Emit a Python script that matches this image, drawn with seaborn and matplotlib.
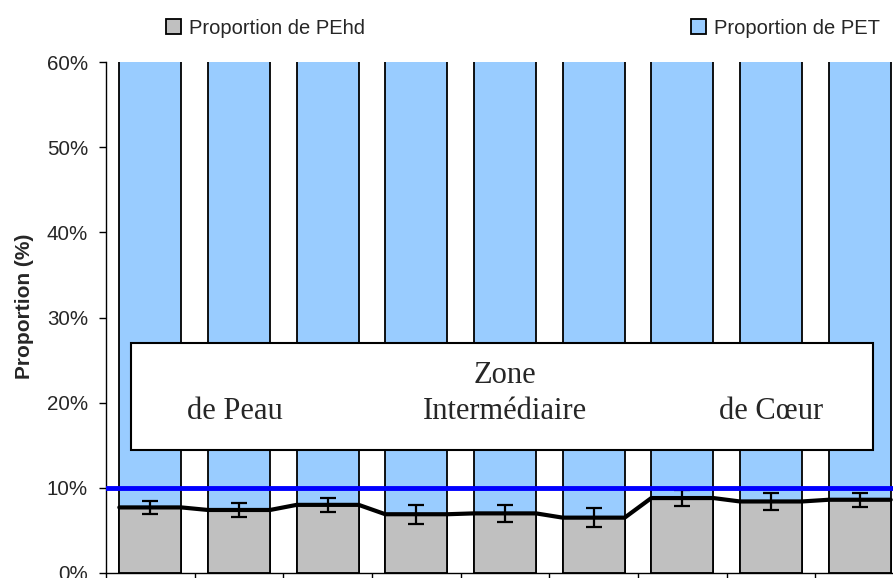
import numpy as np
import pandas as pd
import matplotlib
matplotlib.use('Agg')
import matplotlib.pyplot as plt
import matplotlib.patches as mpatches
import seaborn as sns

# Data
positions = ['1', '2', '3', '4', '5', '6', '7', '8', '9']
pehd = [7.7, 7.4, 8.0, 6.9, 7.0, 6.5, 8.8, 8.4, 8.6]
pehd_err = [0.8, 0.8, 0.8, 1.1, 1.0, 1.1, 0.9, 0.95, 0.85]
pet = [100 - v for v in pehd]
threshold = 10
zone_labels = ['de Peau', 'Intermédiaire', 'de Cœur']
zone_centers = [0.95, 4.0, 7.0]

df = pd.DataFrame({'position': positions, 'PEhd': pehd, 'PET': pet})
df['total'] = df['PEhd'] + df['PET']

sns.set_style('ticks')
plt.rcParams['font.family'] = ['Liberation Sans', 'DejaVu Sans']

fig = plt.figure(figsize=(8.93, 5.78), dpi=100)
ax = fig.add_axes([106 / 893, 5 / 578, 798 / 893, 511 / 578])

bar_w = 0.7
# PET stacked on top of PEhd: draw full height in blue, PEhd over it
sns.barplot(data=df, x='position', y='total', color='#99CCFF', saturation=1,
            edgecolor='black', linewidth=1.3, width=bar_w, errorbar=None, ax=ax)
sns.barplot(data=df, x='position', y='PEhd', color='#C0C0C0', saturation=1,
            edgecolor='black', linewidth=1.3, width=bar_w, errorbar=None, ax=ax)

# series line joining the tops of the PEhd bars
idx = np.arange(len(positions))
line_x = np.ravel([[i - bar_w / 2, i + bar_w / 2] for i in idx])
line_y = np.repeat(pehd, 2)
ax.plot(line_x, line_y, color='black', lw=3, zorder=4)

ax.errorbar(idx, pehd, yerr=pehd_err, fmt='none', ecolor='black',
            elinewidth=1.6, capsize=5.5, capthick=1.6, zorder=5)

ax.axhline(threshold, color='#0000FF', lw=3.5, zorder=6)

# zone annotation box
box = mpatches.Rectangle((-0.22, 14.4), 8.37, 12.6, facecolor='white',
                         edgecolor='black', lw=1.5, zorder=7)
ax.add_patch(box)
serif = ['Liberation Serif', 'DejaVu Serif']
ax.text(4.0, 23.2, 'Zone', ha='center', va='center', fontsize=22,
        family=serif, zorder=8)
for lab, cx in zip(zone_labels, zone_centers):
    ax.text(cx, 19.0, lab, ha='center', va='center', fontsize=22,
            family=serif, zorder=8)

ax.set_ylim(0, 60)
ax.set_xlim(-0.5, len(positions) - 0.5)
ax.set_yticks(np.arange(0, 61, 10))
ax.set_yticklabels([f'{v}%' for v in range(0, 61, 10)], fontsize=14.8)
ax.set_xticks(np.arange(-0.5, len(positions), 1))
ax.set_xticklabels([])
ax.tick_params(axis='y', length=5, width=1, color='black', pad=8)
ax.tick_params(axis='x', length=6, width=1, color='black')
ax.set_xlabel('')
ax.set_ylabel('Proportion (%)', fontsize=15, fontweight='bold')
ax.yaxis.set_label_coords(-0.09, 0.5225)
sns.despine(ax=ax)
for s in ['left', 'bottom']:
    ax.spines[s].set_color('black')
    ax.spines[s].set_linewidth(1)

h1 = mpatches.Patch(facecolor='#C0C0C0', edgecolor='black', lw=1.3)
h2 = mpatches.Patch(facecolor='#99CCFF', edgecolor='black', lw=1.3)
leg_kw = dict(frameon=False, fontsize=14.5, handlelength=0.75, handleheight=0.75,
              handletextpad=0.4, borderpad=0, borderaxespad=0, loc='center left')
fig.legend([h1], ['Proportion de PEhd'], bbox_to_anchor=(166 / 893, 1 - 28 / 578), **leg_kw)
fig.legend([h2], ['Proportion de PET'], bbox_to_anchor=(691 / 893, 1 - 28 / 578), **leg_kw)

fig.savefig('out.png', dpi=100)
